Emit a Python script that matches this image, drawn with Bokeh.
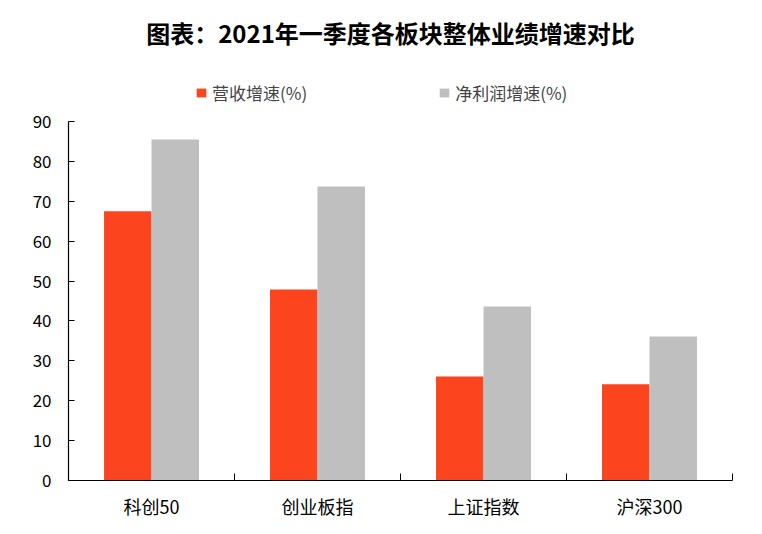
from bokeh.plotting import figure
from bokeh.models import (ColumnDataSource, Range1d, LinearAxis, FixedTicker,
                          Legend, LegendItem, Label)
from bokeh.transform import dodge
from bokeh.embed import file_html
from bokeh.resources import INLINE

# ---- data ----
categories = ["科创50", "创业板指", "上证指数", "沪深300"]
revenue_growth = [67.5, 47.9, 26.1, 24.1]
profit_growth = [85.5, 73.7, 43.6, 36.1]
series_names = ["营收增速(%)", "净利润增速(%)"]
y_ticks = [0, 10, 20, 30, 40, 50, 60, 70, 80, 90]
title_text = "图表：2021年一季度各板块整体业绩增速对比"

FONT = "Noto Sans CJK SC"
RED = "#FC451F"
GRAY = "#BFBFBF"

# layout (pixels)
W, H = 754, 526
LEFT, RIGHT, BOTTOM = 68, 22, 46
FRAME_H = H - BOTTOM            # frame spans the full top
AXIS_TOP_PX = 121               # where the top tick (90) sits
y_end = y_ticks[-1] * FRAME_H / (FRAME_H - AXIS_TOP_PX)

centers = [i + 0.5 for i in range(len(categories))]
bounds = [float(i) for i in range(len(categories) + 1)]
src = ColumnDataSource(dict(x=centers, cat=categories, rev=revenue_growth, prof=profit_growth))

p = figure(width=W, height=H, output_backend="svg", toolbar_location=None,
           x_range=Range1d(0, len(categories)), y_range=Range1d(0, y_end),
           x_axis_type=None, y_axis_type=None,
           min_border_left=LEFT, min_border_right=RIGHT,
           min_border_top=0, min_border_bottom=BOTTOM)

bw = 0.286
r1 = p.vbar(x=dodge("x", -bw / 2), top="rev", width=bw, source=src,
            fill_color=RED, line_color=None)
r2 = p.vbar(x=dodge("x", bw / 2), top="prof", width=bw, source=src,
            fill_color=GRAY, line_color=None)

# x axis: labels at category centers, ticks at boundaries
xaxis = LinearAxis(ticker=FixedTicker(ticks=centers, minor_ticks=bounds),
                   major_label_overrides={c: lab for c, lab in zip(centers, categories)},
                   major_tick_in=0, major_tick_out=0,
                   minor_tick_in=7, minor_tick_out=0,
                   major_label_standoff=12,
                   major_label_text_font=FONT, major_label_text_font_size="18px",
                   major_label_text_color="black",
                   axis_line_color="black", axis_line_width=1.2,
                   minor_tick_line_color="black")
p.add_layout(xaxis, "below")

yaxis = LinearAxis(ticker=FixedTicker(ticks=y_ticks), bounds=(y_ticks[0], y_ticks[-1]),
                   major_tick_in=6, major_tick_out=0,
                   major_label_standoff=17,
                   major_label_text_font=FONT, major_label_text_font_size="17px",
                   major_label_text_color="black",
                   axis_line_color="black", axis_line_width=1.2,
                   major_tick_line_color="black", minor_tick_line_color=None)
p.add_layout(yaxis, "left")

p.xgrid.visible = False
p.ygrid.visible = False
p.outline_line_color = None

title = Label(x=322, y=448, x_units="screen", y_units="screen", text=title_text,
              text_font=FONT, text_font_size="24px", text_font_style="bold",
              text_color="black", text_align="center", text_baseline="middle")
p.add_layout(title)

legend = Legend(items=[LegendItem(label=series_names[0], renderers=[r1]),
                       LegendItem(label=series_names[1], renderers=[r2])],
                location=(127, 375), orientation="horizontal",
                glyph_width=12, glyph_height=11, label_standoff=5, spacing=131,
                padding=0, margin=0, border_line_color=None, background_fill_alpha=0,
                label_text_font=FONT, label_text_font_size="17px", label_height=20)
p.add_layout(legend, "center")

open("out.html", "w").write(file_html(p, INLINE))
